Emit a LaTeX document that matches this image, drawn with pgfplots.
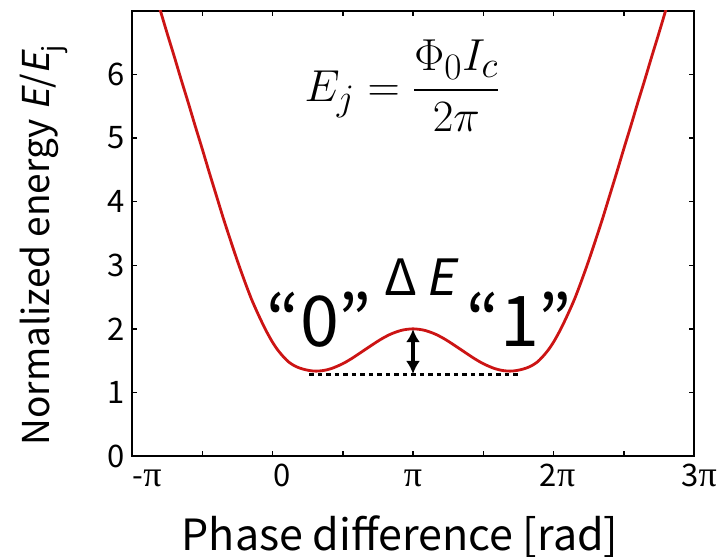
\documentclass[border=0pt]{standalone}
\usepackage{pgfplots}
\pgfplotsset{compat=1.18}
\usepackage{amsmath}
\usepackage{graphicx}
\usepackage{fontspec}
\setmainfont{Noto Sans CJK JP}[ItalicFont={Noto Sans CJK JP}, ItalicFeatures={FakeSlant=0.2}]
\newfontfamily\serifpi{Liberation Serif}
\newcommand{\PI}{{\serifpi\fontsize{36}{40}\selectfont π}}
\usetikzlibrary{arrows.meta}
\definecolor{curvered}{RGB}{204,20,20}
\pgfplotstableread{
phi E
-0.82 7.16
-0.80 7.02
-0.75 6.65
-0.70 6.29
-0.65 5.92
-0.60 5.56
-0.55 5.19
-0.50 4.83
-0.45 4.46
-0.40 4.10
-0.35 3.74
-0.30 3.40
-0.25 3.07
-0.20 2.76
-0.15 2.47
-0.10 2.22
-0.05 1.99
0.00 1.790
0.04 1.66
0.08 1.555
0.12 1.47
0.169 1.405
0.22 1.365
0.27 1.342
0.31 1.335
0.36 1.344
0.42 1.376
0.50 1.452
0.572 1.545
0.66 1.675
0.762 1.823
0.84 1.916
0.92 1.978
1.00 2.00
1.08 1.978
1.16 1.916
1.238 1.823
1.34 1.675
1.428 1.545
1.50 1.452
1.58 1.376
1.64 1.344
1.69 1.335
1.73 1.342
1.78 1.365
1.831 1.405
1.88 1.47
1.92 1.555
1.96 1.66
2.00 1.790
2.05 1.99
2.10 2.22
2.15 2.47
2.20 2.76
2.25 3.07
2.30 3.40
2.35 3.74
2.40 4.10
2.45 4.46
2.50 4.83
2.55 5.19
2.60 5.56
2.65 5.92
2.70 6.29
2.75 6.65
2.80 7.02
2.82 7.16
}\energy
\begin{document}
\begin{tikzpicture}
\useasboundingbox (-132pt,-100pt) rectangle (595pt,456pt);
\begin{axis}[
  scale only axis, width=562pt, height=445pt,
  at={(0pt,0pt)}, anchor=south west,
  xmin=-1, xmax=3, ymin=0, ymax=7,
  xtick={-1,0,1,2,3},
  xticklabels={\hspace*{30pt}-\PI, \hspace*{20pt}0, \PI, \hspace*{8pt}2\PI, \hspace*{10pt}3\PI},
  minor xtick={-0.5,0.5,1.5,2.5},
  ytick={0,1,2,3,4,5,6},
  tick align=inside,
  major tick length=5pt, minor tick length=5pt,
  tick style={line width=1.5pt, black},
  axis line style={line width=2pt},
  ticklabel style={font=\fontsize{31}{35}\selectfont},
  xticklabel style={yshift=-3pt, text height=24pt},
  yticklabel style={xshift=-4pt},
  /pgf/number format/assume math mode=true,
  clip mode=individual,
]
\addplot[color=curvered, line width=2.8pt, smooth] table[x=phi, y=E] {\energy};
\addplot[black, line width=3.5pt, dash pattern=on 4.5pt off 4pt] coordinates {(0.263,1.28) (1.772,1.28)};
\addplot[black, line width=3.2pt, {Latex[length=13pt,width=14pt]}-{Latex[length=13pt,width=14pt]}] coordinates {(1,1.995) (1,1.29)};
\node at (axis cs:0.925,5.82) {\scalebox{1.8}{\fontsize{24.88}{30}\selectfont $E_j=\dfrac{\Phi_0 I_c}{2\pi}$}};
\node[font=\fontsize{70}{78}\selectfont] at (axis cs:0.335,2.15) {“0”};
\node[font=\fontsize{70}{78}\selectfont] at (axis cs:1.758,2.15) {“1”};
\node[font=\fontsize{50}{56}\selectfont] at (axis cs:1.046,2.82) {Δ\,\textit{E}};
\node[anchor=base, font=\fontsize{43}{50}\selectfont] at ([yshift=-94pt]axis description cs:0.477,0) {Phase difference [rad]};
\node[anchor=base, rotate=90, font=\fontsize{37}{44}\selectfont] at ([xshift=-82pt]axis description cs:0,0.474) {Normalized energy \textit{E}/\textit{E}\textsubscript{j}};
\end{axis}
\end{tikzpicture}
\end{document}
